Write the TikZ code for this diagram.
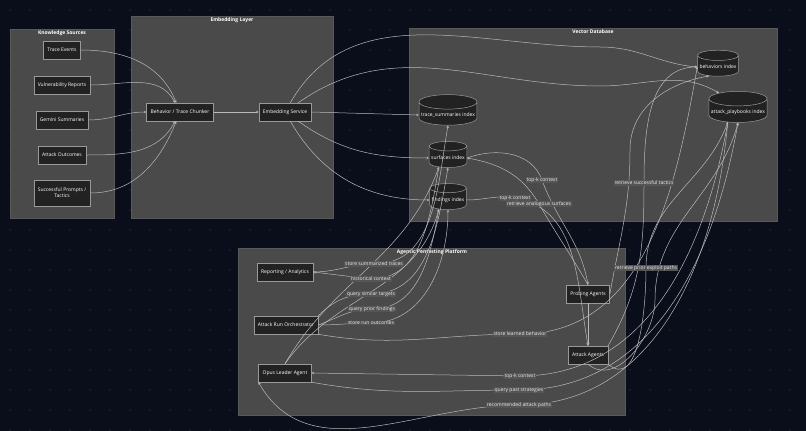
\documentclass[tikz,border=0pt]{standalone}
\usepackage{fontspec}
\setmainfont{Open Sans}
\usetikzlibrary{shapes.geometric,arrows.meta}
\definecolor{bg}{HTML}{0A0E1A}
\definecolor{clus}{HTML}{4A4A4A}
\definecolor{nfill}{HTML}{222222}
\definecolor{lbl}{HTML}{555555}
\tikzset{
 every node/.style={font=\fontsize{5}{6}\selectfont, text=white},
 cluster/.style={fill=clus, draw=gray!70!black, line width=0.5pt},
 box/.style={draw=gray!80, fill=nfill, line width=0.5pt, minimum height=18pt, inner xsep=4pt, align=center},
 db/.style={cylinder, shape border rotate=90, aspect=0.25, draw=gray!80, fill=nfill, line width=0.5pt, minimum height=26pt, inner xsep=2pt},
 edge/.style={draw=gray!55, line width=0.5pt, -{Stealth[length=2.5pt,width=2.5pt]}},
 lab/.style={fill=lbl, inner sep=0.8pt, text=gray!15},
 ctitle/.style={font=\fontsize{5}{6}\selectfont\bfseries}
}
\begin{document}
\begin{tikzpicture}[x=1pt,y=-1pt]
\fill[bg] (0,0) rectangle (806,431);
\useasboundingbox (0,0) rectangle (806,431);
\foreach \i in {0,...,40}{\foreach \j in {0,...,21}{\fill[white!20!bg] (10+20*\i,10+20*\j) circle (0.6);}}
% clusters
\draw[cluster] (10,29) rectangle (114,218); \node[ctitle] at (62,33) {Knowledge Sources};
\draw[cluster] (131,16) rectangle (333,218); \node[ctitle] at (232,20) {Embedding Layer};
\draw[cluster] (409,28) rectangle (777,221); \node[ctitle] at (593,32) {Vector Database};
\draw[cluster] (238,248) rectangle (625,415); \node[ctitle] at (432,252) {Agentic Pentesting Platform};
% nodes
\node[box] (te) at (62,50) {Trace Events};
\node[box] (vr) at (62,85) {Vulnerability Reports};
\node[box] (gs) at (62,120) {Gemini Summaries};
\node[box] (ao) at (62,155) {Attack Outcomes};
\node[box, minimum height=26pt] (sp) at (62,193) {Successful Prompts /\\Tactics};
\node[box] (ch) at (180,112) {Behavior / Trace Chunker};
\node[box] (es) at (285,112) {Embedding Service};
\node[db] (bi) at (718,67) {behaviors index};
\node[db, minimum height=28pt] (ap) at (738,112) {attack\_playbooks index};
\node[db, minimum height=28pt] (ts) at (448,115) {trace\_summaries index};
\node[db] (si) at (448,158) {surfaces index};
\node[db] (fi) at (448,200) {findings index};
\node[box] (ra) at (285,272) {Reporting / Analytics};
\node[box] (ro) at (286,325) {Attack Run Orchestrator};
\node[box] (ol) at (285,373) {Opus Leader Agent};
\node[box] (pa) at (588,294) {Probing Agents};
\node[box] (aa) at (588,355) {Attack Agents};
% label coordinates
\coordinate (l1) at (374,264); \coordinate (l2) at (371,279);
\coordinate (l3) at (371,294); \coordinate (l4) at (372,309);
\coordinate (l5) at (371,323); \coordinate (l6) at (520,334);
\coordinate (l7) at (520,376); \coordinate (l8) at (519,390);
\coordinate (l9) at (519,405); \coordinate (la) at (542,180);
\coordinate (lb) at (515,198); \coordinate (lc) at (539,204);
\coordinate (ld) at (644,183); \coordinate (le) at (646,268);
% source edges
\foreach \s/\a in {te/112, vr/118, gs/180, ao/-118, sp/-112}{\draw[edge] (\s.east) to[out=0,in=\a] (ch);}
\draw[edge] (ch) -- (es);
\draw[edge] (es) to[out=60,in=180] (600,47) to[out=0,in=175] (bi.west);
\draw[edge] (es) to[out=35,in=180] (600,86) to[out=0,in=150] (ap.north west);
\draw[edge] (es.east) -- (ts.west);
\draw[edge] (es) to[out=-35,in=180] (si.west);
\draw[edge] (es) to[out=-60,in=180] (fi.west);
% platform edges
\draw[edge] (ra.east) to[out=0,in=180] (l1) to[out=0,in=-100] (ts.south);
\draw[edge] (si.south west) to[out=-100,in=0] (l2) -- (ra.east);
\draw[edge] (ro.north east) to[out=45,in=180] (l3) to[out=0,in=-100] (si.south);
\draw[edge] (ro.east) to[out=20,in=180] (l4) to[out=0,in=-100] (fi.south west);
\draw[edge] (ro.east) to[out=0,in=180] (l5) to[out=0,in=-90] (fi.south);
\draw[edge] (ro.south east) to[out=-10,in=180] (l6) to[out=0,in=-100] (bi.west);
\draw[edge] (ol.north) to[out=60,in=-110] (si.south west);
\draw[edge] (ol.north) to[out=55,in=-105] (fi.south west);
\draw[edge] (ap.south west) to[out=-100,in=0] (l7) -- (ol.east);
\draw[edge] (ol.south east) to[out=-10,in=180] (l8) to[out=0,in=-100] (ap.south);
\draw[edge] (ap.south west) to[out=-95,in=0] (l9) to[out=180,in=-60] (ol.south west);
\draw[edge] (si.east) to[out=20,in=110] (la) to[out=-70,in=100] (pa.north);
\draw[edge] (pa.north) to[out=120,in=-60] (lc) to[out=120,in=-10] (si.east);
\draw[edge] (fi.east) to[out=0,in=170] (lb) to[out=-10,in=100] (aa.north);
\draw[edge] (pa) -- (aa);
\draw[edge] (aa.north east) to[out=60,in=-90] (ld) to[out=90,in=180] (bi.west);
\draw[edge] (pa.east) to[out=80,in=-90] (630,150) to[out=90,in=-170] (bi.south west);
\draw[edge] (aa.south east) to[out=-40,in=-90] (le) to[out=90,in=-110] (ap.south west);
\draw[edge] (aa.south) to[out=-40,in=-90] (655,300) to[out=90,in=-105] (ap.south);
% labels
\node[lab] at (l1) {store summarized traces};
\node[lab] at (l2) {historical context};
\node[lab] at (l3) {query similar targets};
\node[lab] at (l4) {query prior findings};
\node[lab] at (l5) {store run outcomes};
\node[lab] at (l6) {store learned behavior};
\node[lab] at (l7) {top-k context};
\node[lab] at (l8) {query past strategies};
\node[lab] at (l9) {recommended attack paths};
\node[lab] at (la) {top-k context};
\node[lab] at (lb) {top-k context};
\node[lab] at (lc) {retrieve analogous surfaces};
\node[lab] at (ld) {retrieve successful tactics};
\node[lab] at (le) {retrieve prior exploit paths};
\end{tikzpicture}
\end{document}
